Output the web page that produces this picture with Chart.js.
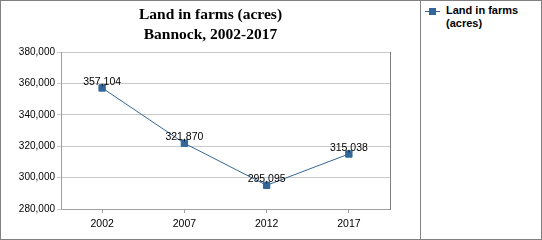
<!DOCTYPE html>
<html>
<head>
<meta charset="utf-8">
<script src="https://cdn.jsdelivr.net/npm/chart.js@4.4.1/dist/chart.umd.min.js"></script>
<style>
  html, body { margin:0; padding:0; background:#fff; }
  #frame { position:absolute; left:0; top:0; width:542px; height:240px; box-sizing:border-box; border:1px solid #808080; background:#fff; overflow:hidden; }
  #plot { position:absolute; left:0; top:0; width:419px; height:238px; }
  #divider { position:absolute; left:419px; top:0; width:1px; height:238px; background:#808080; }
  #legend { position:absolute; left:420px; top:0; width:120px; height:238px; }
  #legLine { position:absolute; left:4px; top:10px; width:15px; height:1px; background:#336699; }
  #legBox { position:absolute; left:8px; top:7px; width:7px; height:7px; background:#336699; }
  #legText { position:absolute; left:25px; top:3px; width:94px; font-family:"Liberation Sans", Arial, sans-serif; font-size:11px; font-weight:bold; line-height:13px; color:#000; }
</style>
</head>
<body>
<div id="frame">
  <div id="plot"><canvas id="c" width="419" height="238"></canvas></div>
  <div id="divider"></div>
  <div id="legend"><div id="legLine"></div><div id="legBox"></div><div id="legText"></div></div>
</div>
<script>
const categories = ['2002', '2007', '2012', '2017'];
const landInFarms = [357104, 321870, 295095, 315038];
const seriesLabel = 'Land in farms (acres)';
const legendLines = ['Land in farms', '(acres)'];
const titleLines = ['Land in farms (acres)', 'Bannock, 2002-2017'];
const yMin = 280000;
const yMax = 380000;
const yStep = 20000;

const fmt = v => Number(v).toLocaleString('en-US');

document.getElementById('legText').innerHTML = legendLines.join('<br>');

const dataLabels = {
  id: 'dataLabels',
  afterDatasetsDraw(chart) {
    const ctx = chart.ctx;
    const meta = chart.getDatasetMeta(0);
    const ds = chart.data.datasets[0];
    ctx.save();
    ctx.font = '10.5px "Liberation Sans", Arial, sans-serif';
    ctx.fillStyle = '#000';
    ctx.textAlign = 'center';
    ctx.textBaseline = 'alphabetic';
    meta.data.forEach((pt, i) => {
      ctx.fillText(fmt(ds.data[i]), pt.x, pt.y - 3.3);
    });
    ctx.restore();
  }
};

new Chart(document.getElementById('c'), {
  type: 'line',
  data: {
    labels: categories,
    datasets: [{
      label: seriesLabel,
      data: landInFarms,
      borderColor: '#336699',
      backgroundColor: '#336699',
      borderWidth: 1,
      pointStyle: 'rect',
      pointRadius: 4.5,
      pointBorderWidth: 1,
      pointBackgroundColor: '#336699',
      pointBorderColor: '#336699',
      tension: 0,
      fill: false
    }]
  },
  options: {
    responsive: false,
    animation: false,
    devicePixelRatio: 1,
    layout: { padding: 0 },
    plugins: {
      legend: { display: false },
      tooltip: { enabled: false },
      title: {
        display: true,
        text: titleLines,
        color: '#000',
        font: { family: '"Liberation Serif", "Times New Roman", serif', size: 15.5, weight: 'bold', lineHeight: 1.3 },
        padding: { top: 4, bottom: 6.7 }
      }
    },
    scales: {
      x: {
        type: 'category',
        offset: true,
        grid: { display: true, drawOnChartArea: false, drawTicks: true, tickLength: 4, offset: false, color: '#a0a0a0' },
        border: { display: true, color: '#a0a0a0', width: 1 },
        ticks: { color: '#000', padding: 5, font: { family: '"Liberation Sans", Arial, sans-serif', size: 10.5 }, maxRotation: 0 },
        afterFit(scale) { scale.height = 30; }
      },
      y: {
        min: yMin,
        max: yMax,
        grid: { color: '#c8c8c8', tickLength: 4, drawTicks: true },
        border: { display: true, color: '#a0a0a0', width: 1 },
        ticks: { stepSize: yStep, color: '#000', padding: 2, font: { family: '"Liberation Sans", Arial, sans-serif', size: 10 }, callback: v => fmt(v) },
        afterFit(scale) { scale.width = 60; }
      },
      y2: {
        position: 'right',
        min: yMin,
        max: yMax,
        grid: { drawOnChartArea: false, drawTicks: false },
        border: { display: true, color: '#808080', width: 1 },
        ticks: { display: false },
        afterFit(scale) { scale.width = 30; }
      }
    }
  },
  plugins: [dataLabels]
});
</script>
</body>
</html>
